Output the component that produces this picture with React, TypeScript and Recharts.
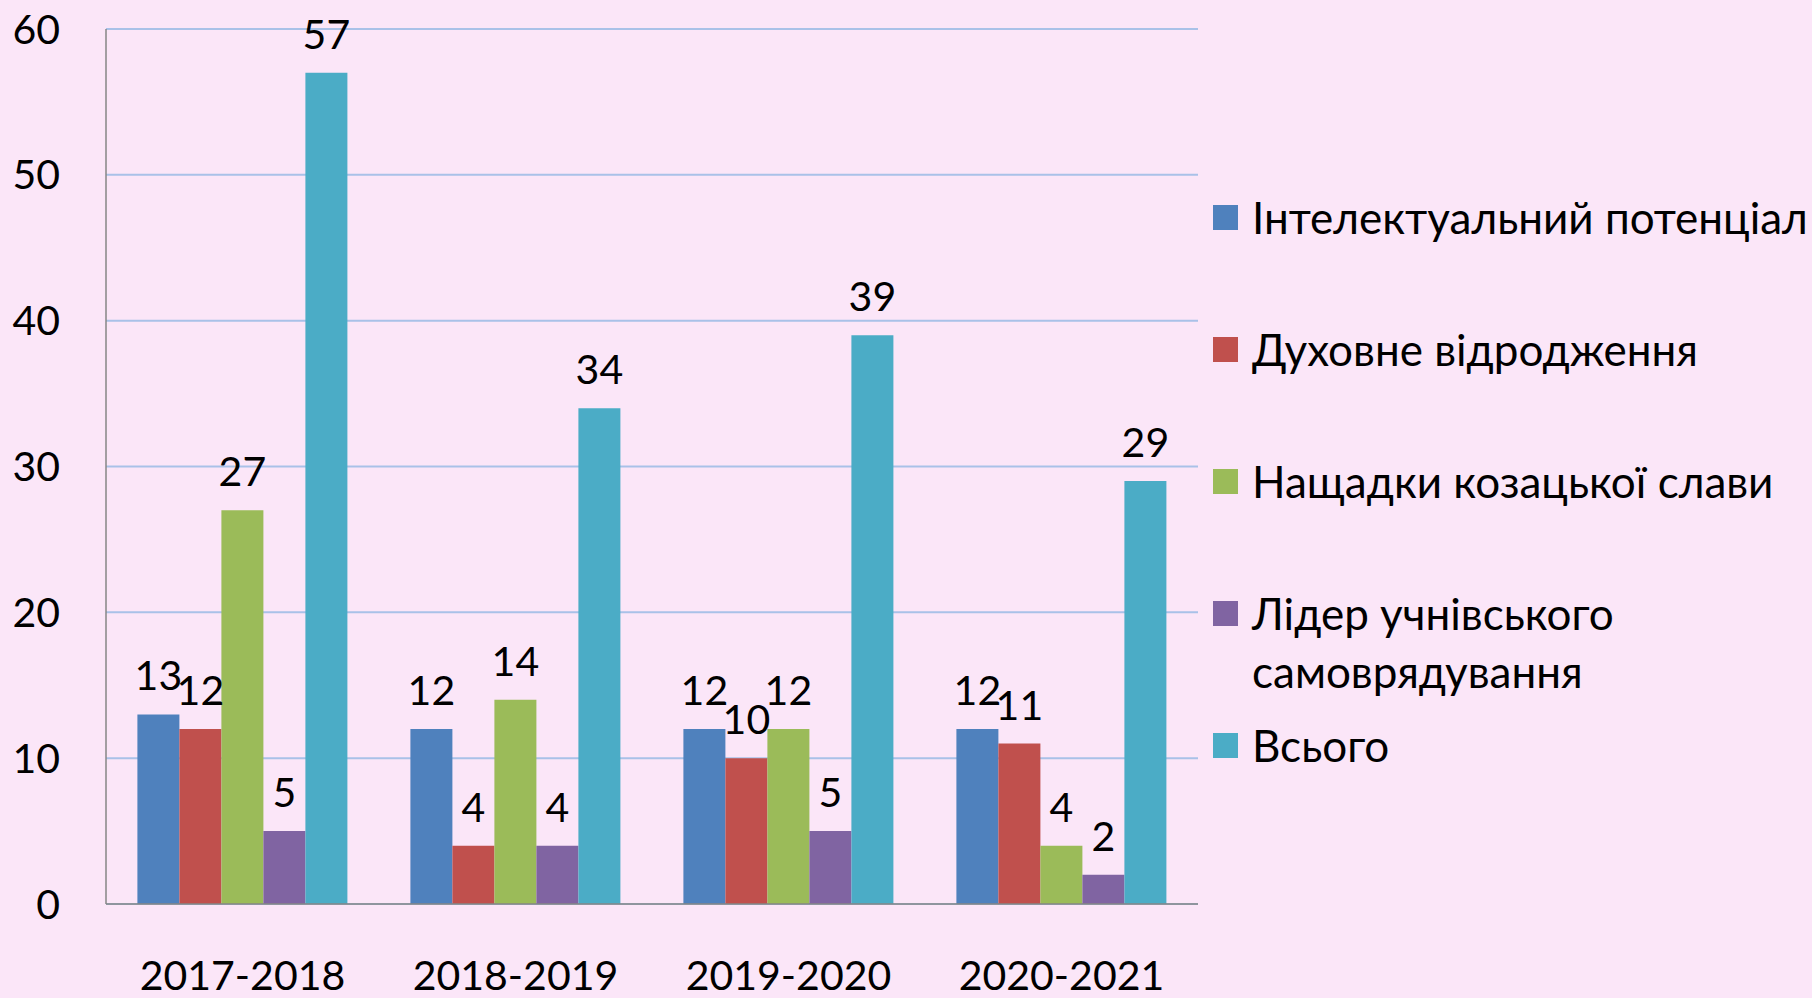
import { BarChart, Bar, XAxis, YAxis, CartesianGrid, LabelList } from 'recharts'

const years = ['2017-2018', '2018-2019', '2019-2020', '2020-2021']
const intelekt = [13, 12, 12, 12]
const dukhovne = [12, 4, 10, 11]
const nashchadky = [27, 14, 12, 4]
const lider = [5, 4, 5, 2]
const vsogo = [57, 34, 39, 29]
const yTicks = [0, 10, 20, 30, 40, 50, 60]

const series = [
  { key: 'intelekt', name: 'Інтелектуальний потенціал', color: '#4F81BD', values: intelekt },
  { key: 'dukhovne', name: 'Духовне відродження', color: '#C0504D', values: dukhovne },
  { key: 'nashchadky', name: 'Нащадки козацької слави', color: '#9BBB59', values: nashchadky },
  { key: 'lider', name: 'Лідер учнівського самоврядування', color: '#8064A2', values: lider },
  { key: 'vsogo', name: 'Всього', color: '#4BACC6', values: vsogo },
]

const data = years.map((year, i) => {
  const row: Record<string, string | number> = { year }
  series.forEach((s) => { row[s.key] = s.values[i] })
  return row
})

const FONT = 'Lato, "Open Sans", sans-serif'
const W = 1812
const H = 998

function LegendBox() {
  return (
    <div style={{ position: 'absolute', left: 1213, top: 188, width: 599, fontFamily: FONT }}>
      {series.map((s) => (
        <div key={s.key} style={{ display: 'flex', height: 132, alignItems: 'flex-start' }}>
          <div style={{ width: 25, height: 25, background: s.color, marginTop: 17, flexShrink: 0 }} />
          <div style={{ marginLeft: 14, fontSize: 44, lineHeight: '58px', color: '#000', width: 558 }}>
            {s.name}
          </div>
        </div>
      ))}
    </div>
  )
}

export default function App() {
  return (
    <div style={{ position: 'absolute', left: 0, top: 0, width: W, height: H, background: '#FBE6F8', overflow: 'hidden' }}>
      <BarChart
        width={W}
        height={H}
        data={data}
        margin={{ top: 29, right: W - 1198, left: 0, bottom: 0 }}
        barCategoryGap="11.5%"
        barGap={0}
      >
        <CartesianGrid vertical={false} stroke="#A9C1E8" strokeWidth={2} />
        <XAxis
          dataKey="year"
          height={94}
          axisLine={{ stroke: '#868686', strokeWidth: 1.5 }}
          tickLine={false}
          tickSize={0}
          tickMargin={57}
          tick={{ fill: '#000', fontSize: 41, fontFamily: FONT }}
        />
        <YAxis
          width={106}
          domain={[0, 60]}
          ticks={yTicks}
          axisLine={{ stroke: '#868686', strokeWidth: 1.5 }}
          tickLine={false}
          tickSize={0}
          tickMargin={46}
          tick={{ fill: '#000', fontSize: 41, fontFamily: FONT }}
        />
        {series.map((s) => (
          <Bar key={s.key} dataKey={s.key} name={s.name} fill={s.color} isAnimationActive={false}>
            <LabelList
              dataKey={s.key}
              position="top"
              offset={24}
              fill="#000"
              fontSize={41}
              fontFamily={FONT}
            />
          </Bar>
        ))}
      </BarChart>
      <LegendBox />
    </div>
  )
}
